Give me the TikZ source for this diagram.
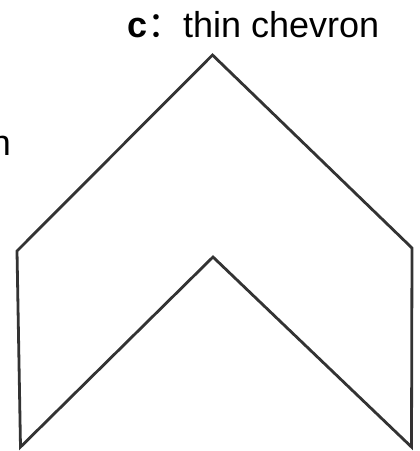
\documentclass[tikz,border=0pt]{standalone}
\usepackage{fontspec}
\setmainfont{Liberation Sans}
\newfontfamily\cjk{Noto Sans CJK SC}
\begin{document}
\begin{tikzpicture}[x=1pt,y=-1pt,
  outline/.style={draw=black!80,line width=2.8pt,line join=miter},
  label/.style={inner sep=0pt,outer sep=0pt,font=\fontsize{36}{40}\selectfont}]
\useasboundingbox (0,0) rectangle (420,451);
\clip (0,0) rectangle (420,451);
\node[label,anchor=base west] (title) at (127,37) {\textbf{c}{\cjk：}thin chevron};
\node[label,anchor=base east] (cut) at (11,155) {n};
\coordinate (apex) at (212.5,55);
\coordinate (rt) at (412,248);
\coordinate (rb) at (411.5,447);
\coordinate (inner) at (213,257);
\coordinate (lb) at (20.5,447);
\coordinate (lt) at (17,251);
\draw[outline] (apex) -- (rt) -- (rb) -- (inner) -- (lb) -- (lt) -- cycle;
\end{tikzpicture}
\end{document}
